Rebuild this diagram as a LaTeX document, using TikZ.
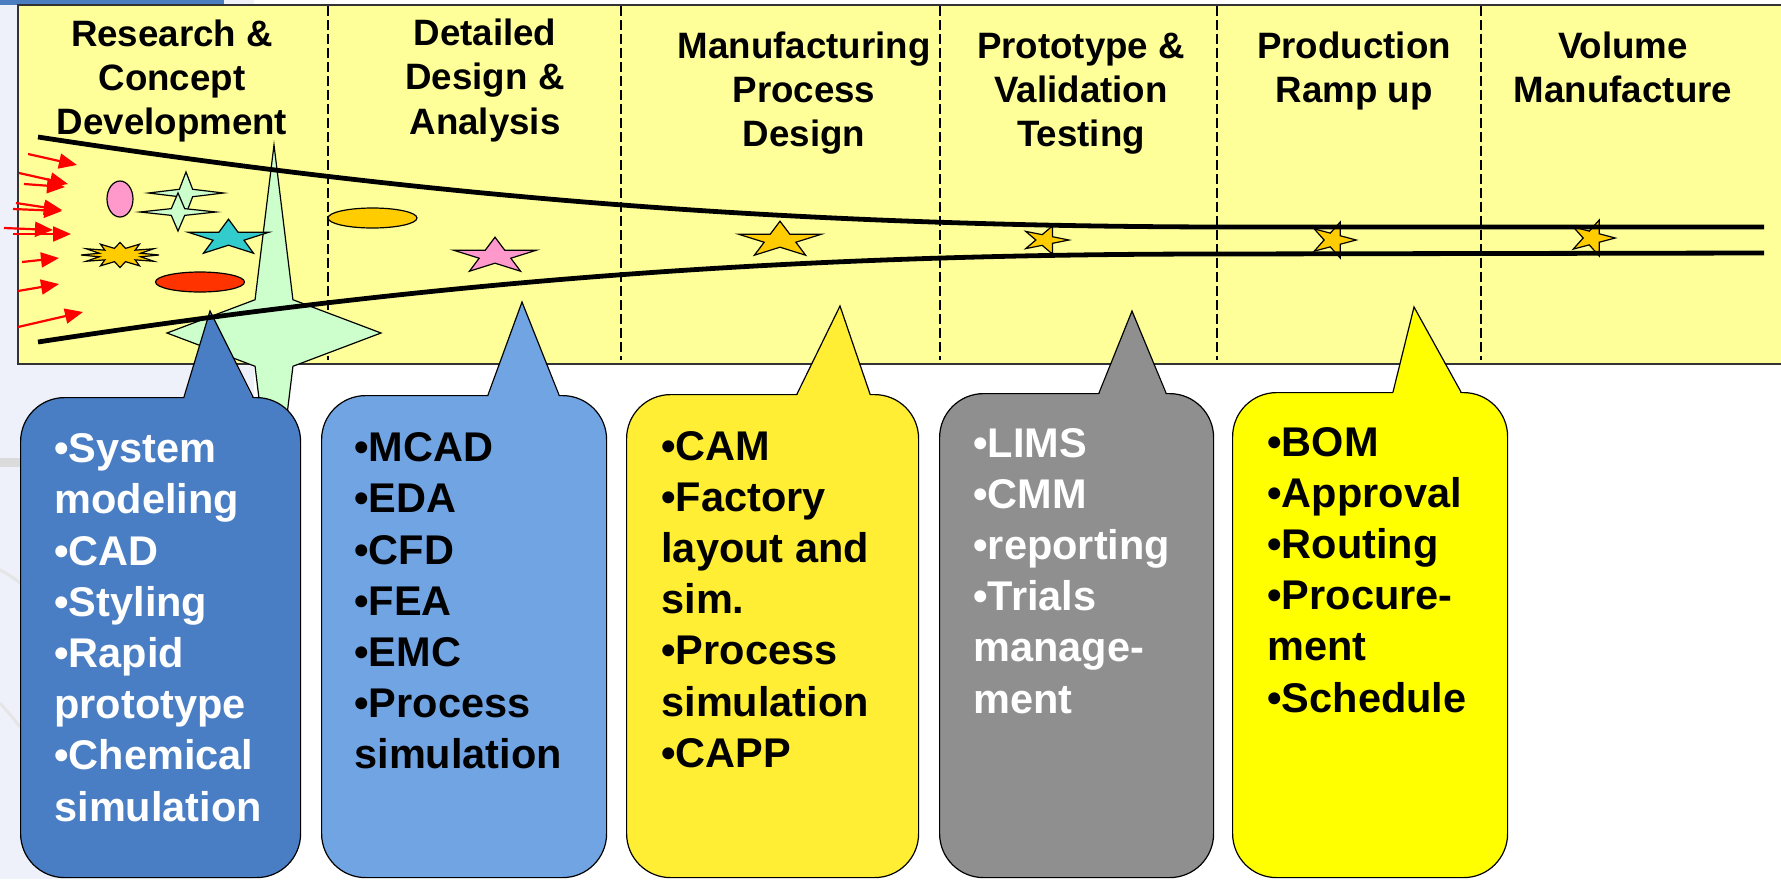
\documentclass[tikz,border=0pt]{standalone}
\usepackage{fontspec}
\setmainfont{Liberation Sans}
\usepackage{xcolor}
\usetikzlibrary{arrows.meta}

\definecolor{panelyellow}{HTML}{FFFF99}
\definecolor{slideblue}{HTML}{4A7EC1}
\definecolor{slidebg}{HTML}{EEF1FA}
\definecolor{conceptblue}{HTML}{4A7EC4}
\definecolor{designblue}{HTML}{71A4E3}
\definecolor{processyellow}{HTML}{FFEE33}
\definecolor{testgray}{HTML}{8F8F8F}
\definecolor{rampyellow}{HTML}{FFFF00}
\definecolor{mint}{HTML}{CCFFCC}
\definecolor{pinkfill}{HTML}{FF99CC}
\definecolor{tealfill}{HTML}{33CCCC}
\definecolor{goldfill}{HTML}{FFCC00}
\definecolor{redfill}{HTML}{FF3300}

\tikzset{
  phase/.style={font=\fontsize{18.35}{22.2}\selectfont\bfseries, align=center, anchor=base, inner sep=0pt},
  bubble/.style={draw=black, line width=0.6pt, rounded corners=22pt, anchor=north west, inner sep=0pt},
  bubbletext/.style={font=\fontsize{20.75}{25.6}\selectfont\bfseries, align=left, anchor=base west, inner sep=0pt},
  divider/.style={dash pattern=on 5pt off 2pt, line width=0.75pt},
  funnel/.style={line width=2.4pt},
  blob/.style={draw=black, line width=0.6pt},
  redarrow/.style={red, line width=1.1pt, -{Triangle[length=9pt,width=7.5pt]}},
  pics/fivestar/.style={code={
    \draw[pic actions] (#1:1) \foreach \k in {1,...,9}{ -- ({#1+36*\k}:{1-0.618*mod(\k,2)}) } -- cycle;}},
  pics/fourstar/.style={code={
    \draw[pic actions] (1,0) -- (#1,#1) -- (0,1) -- (-#1,#1) -- (-1,0) -- (-#1,-#1) -- (0,-1) -- (#1,-#1) -- cycle;}},
  pics/burst/.style={code={
    \draw[pic actions] (0:1) \foreach \k in {1,...,23}{ -- ({15*\k}:{1-0.45*mod(\k,2)}) } -- cycle;}}
}

\begin{document}
\begin{tikzpicture}[x=0.5pt,y=-0.5pt]
\useasboundingbox (0,0) rectangle (1781,879);
\clip (0,0) rectangle (1781,879);
% slide background
\fill[slidebg] (0,0) rectangle (254,879);
\fill[slideblue] (0,0) rectangle (224,4.5);
\fill[black!14] (0,458) rectangle (20,467);
\draw[black!10, line width=1.5pt] (0,570) .. controls (8,574) and (14,578) .. (20,583);
\draw[black!10, line width=1.5pt] (0,703) .. controls (8,712) and (14,719) .. (20,727);
% phase panel
\draw[fill=panelyellow, draw=black!80, line width=0.7pt] (18,5) rectangle (1800,364);
\foreach \x in {328,621,940,1217,1481}
  \draw[divider] (\x,6) -- (\x,360);
% base anchor = baseline of the last line
\node[phase] (research) at (172,134.8) {Research \&\\Concept\\Development};
\node[phase] (detailed) at (485,134) {Detailed\\Design \&\\Analysis};
\node[phase] (mfgdesign) at (804,146.8) {Manufacturing\\Process\\Design};
\node[phase] (prototype) at (1081,146.8) {Prototype \&\\Validation\\Testing};
\node[phase] (rampup) at (1354,102.4) {Production\\Ramp up};
\node[phase] (volume) at (1623,102.4) {Volume\\Manufacture};
% ideas
\pic[blob, fill=mint, xscale=107, yscale=188] at (274,333) {fourstar=0.177};
\draw[blob, fill=pinkfill] (120,199) ellipse (13 and 18);
\pic[blob, fill=mint, xscale=37.5, yscale=21] at (186,193) {fourstar=0.177};
\pic[blob, fill=mint, xscale=38, yscale=19] at (178,212) {fourstar=0.177};
\pic[blob, fill=tealfill, xscale=42.6, yscale=18.8] at (228.5,238) {fivestar=-90};
\pic[blob, fill=goldfill, xscale=39, yscale=12.5] at (120,255) {burst};
\draw[blob, fill=redfill] (200,282) ellipse (44.5 and 10);
\draw[blob, fill=goldfill] (372.5,218) ellipse (44.5 and 10);
\pic[blob, fill=pinkfill, xscale=43.5, yscale=18.8] at (495,256) {fivestar=-90};
\pic[blob, fill=goldfill, xscale=43.6, yscale=18.8] at (780,240) {fivestar=-90};
\pic[blob, fill=goldfill, xscale=23.9, yscale=14.7] at (1045,240) {fivestar=0};
\pic[blob, fill=goldfill, xscale=23.2, yscale=18.9] at (1333,240) {fivestar=0};
\pic[blob, fill=goldfill, xscale=23.2, yscale=18.9] at (1592,238) {fivestar=0};
% tool callouts
\node[bubble, fill=conceptblue, minimum width=140pt, minimum height=240pt] (concept) at (20,397) {};
\fill[conceptblue] (184,399) -- (210,311) -- (253,399) -- cycle;
\draw[line width=0.6pt] (184,397) -- (210,311) -- (253,397);
\node[bubble, fill=designblue, minimum width=142.5pt, minimum height=241pt] (design) at (321,395) {};
\fill[designblue] (488,397) -- (522,302) -- (559,397) -- cycle;
\draw[line width=0.6pt] (488,395) -- (522,302) -- (559,395);
\node[bubble, fill=processyellow, minimum width=146pt, minimum height=241.5pt] (process) at (626,394) {};
\fill[processyellow] (797,396) -- (840,306) -- (870,396) -- cycle;
\draw[line width=0.6pt] (797,394) -- (840,306) -- (870,394);
\node[bubble, fill=testgray, minimum width=137pt, minimum height=242pt] (testing) at (939,393) {};
\fill[testgray] (1099,395) -- (1132,311) -- (1166,395) -- cycle;
\draw[line width=0.6pt] (1099,393) -- (1132,311) -- (1166,393);
\node[bubble, fill=rampyellow, minimum width=137.5pt, minimum height=242.5pt] (ramp) at (1232,392) {};
\fill[rampyellow] (1393,394) -- (1414,307) -- (1461,394) -- cycle;
\draw[line width=0.6pt] (1393,392) -- (1414,307) -- (1461,392);
\node[bubbletext, text=white] (conceptlist) at (54,821.1) {•System\\modeling\\•CAD\\•Styling\\•Rapid\\prototype\\•Chemical\\simulation};
\node[bubbletext] (designlist) at (354,768.9) {•MCAD\\•EDA\\•CFD\\•FEA\\•EMC\\•Process\\simulation};
\node[bubbletext] (processlist) at (661,767.2) {•CAM\\•Factory\\layout and\\sim.\\•Process\\simulation\\•CAPP};
\node[bubbletext, text=white] (testlist) at (973,713) {•LIMS\\•CMM\\•reporting\\•Trials\\manage-\\ment};
\node[bubbletext] (ramplist) at (1267,712) {•BOM\\•Approval\\•Routing\\•Procure-\\ment\\•Schedule};
% funnel
\draw[funnel] (38,137) .. controls (450,200) and (800,226) .. (1217,227) -- (1764,227);
\draw[funnel] (38,342) .. controls (450,279) and (800,254) .. (1217,254) -- (1764,253);
% incoming ideas
\foreach \xa/\ya/\xb/\yb in {28/154/77/165, 19/173/68/184, 24/184/65/187, 16/203/62/210, 13/209/62/211,
    4/228/53/230, 13/234/71/234, 22/262/59/258, 18/291/59/284, 18/327/83/312}
  \draw[redarrow] (\xa,\ya) -- (\xb,\yb);
\end{tikzpicture}
\end{document}
